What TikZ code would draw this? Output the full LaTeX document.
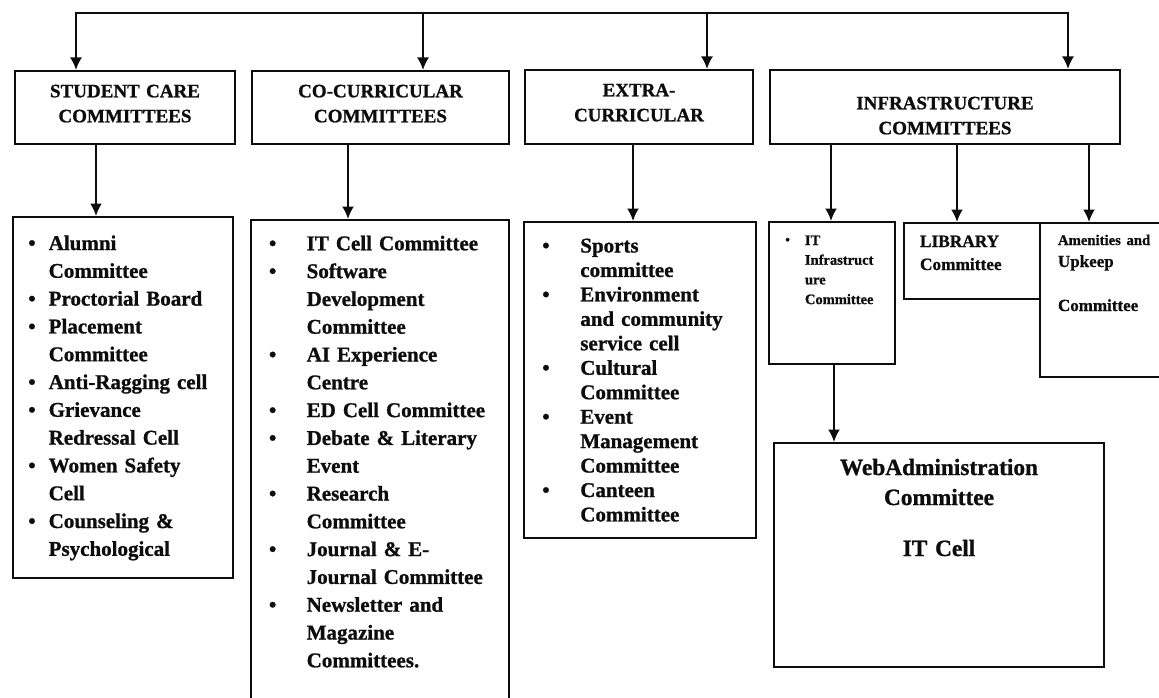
\documentclass[tikz,border=0pt]{standalone}
\usepackage{fontspec}
\setmainfont{Liberation Serif}[BoldFeatures={FakeBold=1}]
\usetikzlibrary{arrows.meta}

% rows of a box: left pad, bullet column, rows
\newcommand{\bulletrows}[3]{%
  \begin{tabular}[t]{@{\hspace*{#1}}p{#2}@{}l@{}}#3\end{tabular}}
\newcommand{\plainrows}[2]{%
  \begin{tabular}[t]{@{\hspace*{#1}}l@{}}#2\end{tabular}}
\newcommand{\smallbul}{{\fontsize{13}{13}\selectfont\raisebox{1pt}{\textbullet}}}

\begin{document}
\begin{tikzpicture}[x=1pt,y=-1pt,line width=2pt,color=black!95,
    >={Latex[length=12.5pt,width=12pt]},
    head/.style={draw,anchor=north west,inner sep=0pt,align=center,
      font=\fontsize{19}{25}\selectfont\bfseries},
    list/.style={draw,anchor=north west,inner sep=0pt,
      font=\fontsize{21}{27.8}\selectfont\bfseries}]
  \useasboundingbox (0,0) rectangle (1159,698);
  \clip (0,0) rectangle (1159,698);

  % heads
  \node[head,text width=220pt,text height=26.3pt,text depth=46.7pt] (sc) at (14,70)
    {STUDENT CARE\\COMMITTEES};
  \node[head,text width=257pt,text height=26.3pt,text depth=46.7pt] (cc) at (251,70)
    {CO-CURRICULAR\\COMMITTEES};
  \node[head,text width=228pt,text height=26.3pt,text depth=47.7pt] (ec) at (524,69)
    {EXTRA-\\CURRICULAR};
  \node[head,text width=350pt,text height=39.3pt,text depth=34.7pt] (ic) at (769,69)
    {INFRASTRUCTURE\\COMMITTEES};

  % lists
  \node[list,text width=220pt,text height=33pt,text depth=328pt] (scl) at (12,216)
    {\bulletrows{15.3pt}{20.4pt}{%
      \textbullet & Alumni\\
      & Committee\\
      \textbullet & Proctorial Board\\
      \textbullet & Placement\\
      & Committee\\
      \textbullet & Anti-Ragging cell\\
      \textbullet & Grievance\\
      & Redressal Cell\\
      \textbullet & Women Safety\\
      & Cell\\
      \textbullet & Counseling \&\\
      & Psychological}};
  \node[list,text width=258pt,text height=30.3pt,text depth=490pt] (ccl) at (250,219)
    {\bulletrows{18pt}{37.7pt}{%
      \textbullet & IT Cell Committee\\
      \textbullet & Software\\
      & Development\\
      & Committee\\
      \textbullet & AI Experience\\
      & Centre\\
      \textbullet & ED Cell Committee\\
      \textbullet & Debate \& Literary\\
      & Event\\
      \textbullet & Research\\
      & Committee\\
      \textbullet & Journal \& E-\\
      & Journal Committee\\
      \textbullet & Newsletter and\\
      & Magazine\\
      & Committees.}};
  \node[list,font=\fontsize{21}{24.45}\selectfont\bfseries,
    text width=232pt,text height=30.5pt,text depth=285.5pt] (ecl) at (523,221)
    {\bulletrows{18.3pt}{38pt}{%
      \textbullet & Sports\\
      & committee\\
      \textbullet & Environment\\
      & and community\\
      & service cell\\
      \textbullet & Cultural\\
      & Committee\\
      \textbullet & Event\\
      & Management\\
      & Committee\\
      \textbullet & Canteen\\
      & Committee}};

  % infrastructure boxes
  \node[list,font=\fontsize{14.5}{19.7}\selectfont\bfseries,
    text width=126pt,text height=23pt,text depth=119pt] (itb) at (768,221)
    {\bulletrows{16.3pt}{19.7pt}{%
      \smallbul & IT\\
      & Infrastruct\\
      & ure\\
      & Committee}};
  \node[list,font=\fontsize{17.3}{23}\selectfont\bfseries,
    text width=136pt,text height=24pt,text depth=52pt] (lib) at (903,222)
    {\plainrows{16pt}{LIBRARY\\Committee}};
  \node[list,font=\fontsize{17}{22}\selectfont\bfseries,
    text width=160pt,text height=22pt,text depth=132pt] (amb) at (1039,222)
    {\plainrows{18pt}{{\fontsize{14.7}{22}\selectfont Amenities and}\\
      Upkeep\\[22pt]
      Committee}};
  \node[list,align=center,font=\fontsize{23.3}{30}\selectfont\bfseries,
    text width=330pt,text height=32pt,text depth=192pt] (wab) at (773,442)
    {WebAdministration\\Committee\\[21pt]IT Cell};

  % top bar
  \coordinate (t1) at (76,13);
  \coordinate (t2) at (423,13);
  \coordinate (t3) at (707,13);
  \coordinate (t4) at (1068,13);
  \draw[<->] (t1 |- sc.north) -- (t1) -- (t4) -- (t4 |- ic.north);
  \path[->] (t2) edge (t2 |- cc.north);
  \path[->] (t3) edge (t3 |- ec.north);

  % heads to lists
  \path[->] ([xshift=82pt]sc.south west) edge ([xshift=84pt]scl.north west);
  \path[->] ([xshift=97pt]cc.south west) edge ([xshift=98pt]ccl.north west);
  \path[->] ([xshift=109pt]ec.south west) edge ([xshift=110pt]ecl.north west);
  \path[->] ([xshift=62pt]ic.south west) edge ([xshift=63pt]itb.north west);
  \path[->] ([xshift=188pt]ic.south west) edge ([xshift=54pt]lib.north west);
  \path[->] ([xshift=320pt]ic.south west) edge ([xshift=50pt]amb.north west);
  \path[->] ([xshift=66pt]itb.south west) edge ([xshift=61pt]wab.north west);
\end{tikzpicture}
\end{document}
